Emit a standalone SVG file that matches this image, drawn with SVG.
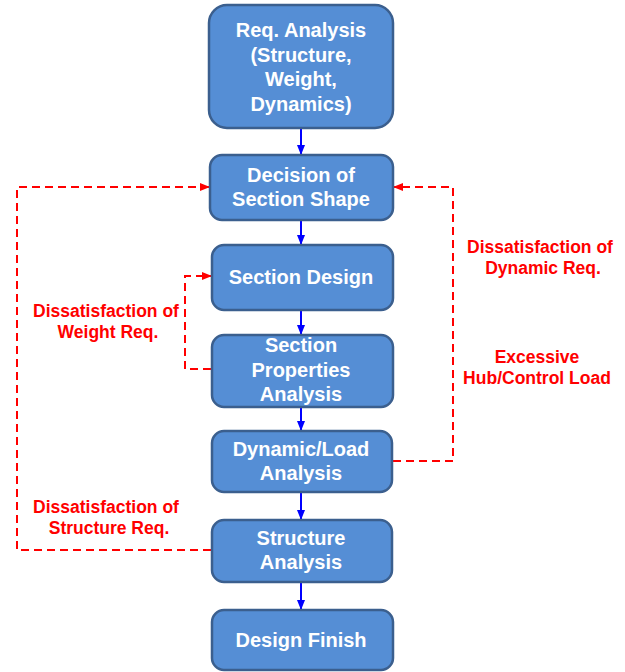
<svg xmlns="http://www.w3.org/2000/svg" width="625" height="672" viewBox="0 0 625 672">
<style>
.box{fill:#558ED5;stroke:#3B5F8E;stroke-width:2.5}
.t{font-family:"Liberation Sans",Arial,sans-serif;font-weight:bold;font-size:20px;fill:#fff;text-anchor:middle}
.r{font-family:"Liberation Sans",Arial,sans-serif;font-weight:bold;font-size:17.5px;fill:#FF0000;text-anchor:middle}
.b{stroke:#0000FF;stroke-width:2;fill:none}
.d{stroke:#FF0000;stroke-width:2;fill:none;stroke-dasharray:8,5}
</style>
<defs>
<marker id="ab" markerWidth="10" markerHeight="10" refX="9" refY="5" orient="auto" markerUnits="userSpaceOnUse">
<path d="M0,1 L10,5 L0,9 Z" fill="#0000FF"/>
</marker>
<marker id="ar" markerWidth="10" markerHeight="10" refX="9" refY="5" orient="auto" markerUnits="userSpaceOnUse">
<path d="M0,1 L10,5 L0,9 Z" fill="#FF0000"/>
</marker>
</defs>
<g id="connectors">
<line class="b" x1="301" y1="129" x2="301" y2="154" marker-end="url(#ab)"/>
<line class="b" x1="301" y1="221" x2="301" y2="244" marker-end="url(#ab)"/>
<line class="b" x1="301" y1="311" x2="301" y2="334" marker-end="url(#ab)"/>
<line class="b" x1="301" y1="408" x2="301" y2="430" marker-end="url(#ab)"/>
<line class="b" x1="301" y1="493" x2="301" y2="519" marker-end="url(#ab)"/>
<line class="b" x1="301" y1="583" x2="301" y2="609" marker-end="url(#ab)"/>
<polyline class="d" points="211,550 17,550 17,187 209,187" marker-end="url(#ar)"/>
<polyline class="d" points="211,369 185,369 185,276 211,276" marker-end="url(#ar)"/>
<polyline class="d" points="393,461 453,461 453,187 394,187" marker-end="url(#ar)"/>
</g>
<g id="n1"><rect class="box" x="209" y="5" width="184" height="123" rx="18"/>
<text class="t" x="301" y="37">Req. Analysis</text><text class="t" x="301" y="62">(Structure,</text><text class="t" x="301" y="86">Weight,</text><text class="t" x="301" y="111">Dynamics)</text></g>
<g id="n2"><rect class="box" x="210" y="155" width="183" height="65" rx="12"/>
<text class="t" x="301" y="182">Decision of</text><text class="t" x="301" y="206">Section Shape</text></g>
<g id="n3"><rect class="box" x="212" y="245" width="181" height="65" rx="12"/>
<text class="t" x="301" y="284">Section Design</text></g>
<g id="n4"><rect class="box" x="212" y="335" width="181" height="72" rx="12"/>
<text class="t" x="301" y="352">Section</text><text class="t" x="301" y="377">Properties</text><text class="t" x="301" y="401">Analysis</text></g>
<g id="n5"><rect class="box" x="212" y="431" width="180" height="61" rx="12"/>
<text class="t" x="301" y="456">Dynamic/Load</text><text class="t" x="301" y="480">Analysis</text></g>
<g id="n6"><rect class="box" x="212" y="520" width="180" height="62" rx="12"/>
<text class="t" x="301" y="545">Structure</text><text class="t" x="301" y="569">Analysis</text></g>
<g id="n7"><rect class="box" x="212" y="610" width="181" height="60" rx="12"/>
<text class="t" x="301" y="647">Design Finish</text></g>
<g id="labels">
<text class="r" x="540" y="253">Dissatisfaction of</text><text class="r" x="543" y="274">Dynamic Req.</text>
<text class="r" x="537" y="363">Excessive</text><text class="r" x="537" y="384">Hub/Control Load</text>
<text class="r" x="106" y="317">Dissatisfaction of</text><text class="r" x="108" y="338">Weight Req.</text>
<text class="r" x="106" y="513">Dissatisfaction of</text><text class="r" x="109" y="534">Structure Req.</text>
</g>
</svg>
